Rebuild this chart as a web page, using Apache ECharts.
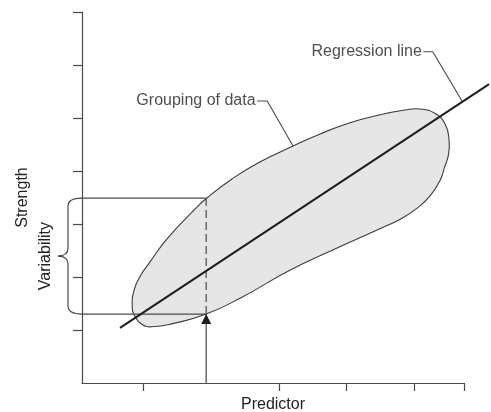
<!DOCTYPE html>
<html><head><meta charset="utf-8">
<script src="https://cdn.jsdelivr.net/npm/echarts@6/dist/echarts.min.js"></script>
<style>html,body{margin:0;padding:0;background:#fff}#c{width:491px;height:412px}</style>
</head><body><div id="c"></div>
<script>
// axis ticks (data units)
const xTicks = [0.9, 2.9, 3.9, 4.9, 5.63];
const yTicks = [1, 2, 3, 4, 5, 6, 7];
const xMax = 5.63, yMax = 7;
// outline of the data grouping (clockwise from the lower-left end)
const groupX = [0.74,0.77,0.86,1.00,1.19,1.40,1.64,1.84,2.21,2.62,3.11,3.51,3.95,4.39,4.76,4.98,5.20,5.35,5.41,5.40,5.34,5.28,5.13,4.94,4.69,4.39,3.80,3.07,2.33,1.83,1.37,1.03,0.88,0.78];
const groupY = [1.45,1.76,2.02,2.28,2.62,2.93,3.25,3.49,3.85,4.17,4.47,4.70,4.91,5.06,5.15,5.17,5.09,4.89,4.58,4.30,4.06,3.83,3.53,3.30,3.09,2.91,2.57,2.13,1.60,1.30,1.13,1.06,1.11,1.26];
// regression line
const regX = [0.56, 6.0];
const regY = [1.04, 5.64];
// predictor value and strength range
const predictorX = 1.83;
const strengthHigh = 3.49;
const strengthLow = 1.30;
// annotation leaders
const regLeaderX = [5.03, 5.17, 5.60];
const regLeaderY = [6.25, 6.25, 5.32];
const grpLeaderX = [2.58, 2.73, 3.11];
const grpLeaderY = [5.32, 5.32, 4.47];
const labels = { reg: 'Regression line', grp: 'Grouping of data', x: 'Predictor', y: 'Strength', range: 'Variability' };

const textColor = '#222';
const lineColor = '#4a4a4a';
const font = '16px "Liberation Sans", Arial, sans-serif';

const zip = (a, b) => a.map((v, i) => [v, b[i]]);

const chart = echarts.init(document.getElementById('c'), null, { renderer: 'canvas' });
chart.setOption({
  animation: false,
  grid: { left: 82, top: 12, right: 27, bottom: 29, containLabel: false, outerBoundsMode: 'none' },
  xAxis: {
    type: 'value', min: 0, max: xMax,
    name: labels.x, nameLocation: 'middle', nameGap: 14,
    nameTextStyle: { color: textColor, fontSize: 16, fontFamily: 'Liberation Sans' },
    axisLine: { show: true, lineStyle: { color: lineColor, width: 1.2 } },
    axisTick: { show: true, customValues: xTicks, length: 8, lineStyle: { color: lineColor, width: 1.2 } },
    axisLabel: { show: false }, splitLine: { show: false }
  },
  yAxis: {
    type: 'value', min: 0, max: yMax,
    name: labels.y, nameLocation: 'middle', nameGap: 51, nameRotate: 90,
    nameTextStyle: { color: textColor, fontSize: 16, fontFamily: 'Liberation Sans' },
    axisLine: { show: true, lineStyle: { color: lineColor, width: 1.2 } },
    axisTick: { show: true, customValues: yTicks, length: 9, lineStyle: { color: lineColor, width: 1.2 } },
    axisLabel: { show: false }, splitLine: { show: false }
  },
  series: [
    {
      type: 'custom', name: 'grouping', z: 1,
      data: zip(groupX, groupY),
      renderItem: function (params, api) {
        if (params.dataIndex !== 0) return null;
        const pts = groupX.map((x, i) => api.coord([x, groupY[i]]));
        return { type: 'polygon', shape: { points: pts, smooth: 0.5 },
          style: { fill: '#e6e6e6', stroke: '#3c3c3c', lineWidth: 1.1 } };
      }
    },
    { type: 'line', name: 'upper', z: 3, data: [[0, strengthHigh], [predictorX, strengthHigh]], symbol: 'none',
      lineStyle: { color: lineColor, width: 1.2 } },
    { type: 'line', name: 'lower', z: 3, data: [[0, strengthLow], [predictorX, strengthLow]], symbol: 'none',
      lineStyle: { color: lineColor, width: 1.2 } },
    { type: 'line', name: 'dashed', z: 3, data: [[predictorX, strengthHigh], [predictorX, strengthLow]], symbol: 'none',
      lineStyle: { color: lineColor, width: 1.2, type: [8, 4] } },
    { type: 'line', name: 'arrowShaft', z: 3, data: [[predictorX, 0], [predictorX, strengthLow]], symbol: 'none',
      lineStyle: { color: lineColor, width: 1.2 } },
    {
      type: 'custom', name: 'arrowHead', z: 4, data: [[predictorX, strengthLow]],
      renderItem: function (params, api) {
        const p = api.coord([api.value(0), api.value(1)]);
        return { type: 'polygon', shape: { points: [[p[0], p[1]], [p[0] - 5, p[1] + 10], [p[0] + 5, p[1] + 10]] },
          style: { fill: '#1e1e1e' } };
      }
    },
    {
      type: 'custom', name: 'regression', z: 5, data: [[regX[0], regY[0], regX[1], regY[1]]],
      renderItem: function (params, api) {
        const a = api.coord([api.value(0), api.value(1)]);
        const b = api.coord([api.value(2), api.value(3)]);
        return { type: 'line', shape: { x1: a[0], y1: a[1], x2: b[0], y2: b[1] },
          style: { stroke: '#1e1e1e', lineWidth: 2 } };
      }
    },
    { type: 'line', name: 'regLeader', z: 5, clip: false, data: zip(regLeaderX, regLeaderY), symbol: 'none',
      lineStyle: { color: lineColor, width: 1.1 } },
    { type: 'line', name: 'grpLeader', z: 5, clip: false, data: zip(grpLeaderX, grpLeaderY), symbol: 'none',
      lineStyle: { color: lineColor, width: 1.1 } },
    {
      type: 'scatter', name: 'annotations', z: 6, symbolSize: 1, itemStyle: { color: 'rgba(0,0,0,0)' },
      data: [
        { value: [regLeaderX[0], regLeaderY[0]], name: labels.reg },
        { value: [grpLeaderX[0], grpLeaderY[0]], name: labels.grp }
      ],
      label: { show: true, position: 'left', distance: 1, formatter: '{b}', color: textColor, fontSize: 16, fontFamily: 'Liberation Sans' }
    },
    {
      type: 'custom', name: 'brace', z: 5, data: [[0, strengthHigh, strengthLow]],
      renderItem: function (params, api) {
        const top = api.coord([0, api.value(1)]);
        const bot = api.coord([0, api.value(2)]);
        const ax = top[0], t = top[1], b = bot[1], m = (t + b) / 2;
        const bx = ax - 14, tip = ax - 24, r = 8;
        const st = { stroke: lineColor, lineWidth: 1.2, fill: null };
        return {
          type: 'group',
          children: [
            { type: 'bezierCurve', shape: { x1: ax, y1: t, cpx1: bx, cpy1: t, x2: bx, y2: t + r }, style: st },
            { type: 'line', shape: { x1: bx, y1: t + r, x2: bx, y2: m - r }, style: st },
            { type: 'bezierCurve', shape: { x1: bx, y1: m - r, cpx1: bx, cpy1: m, x2: tip, y2: m }, style: st },
            { type: 'bezierCurve', shape: { x1: tip, y1: m, cpx1: bx, cpy1: m, x2: bx, y2: m + r }, style: st },
            { type: 'line', shape: { x1: bx, y1: m + r, x2: bx, y2: b - r }, style: st },
            { type: 'bezierCurve', shape: { x1: bx, y1: b - r, cpx1: bx, cpy1: b, x2: ax, y2: b }, style: st },
            { type: 'text', x: tip - 12, y: m, rotation: Math.PI / 2,
              style: { text: labels.range, fill: textColor, font: font, align: 'center', verticalAlign: 'middle' } }
          ]
        };
      }
    }
  ]
});
</script>
</body></html>
